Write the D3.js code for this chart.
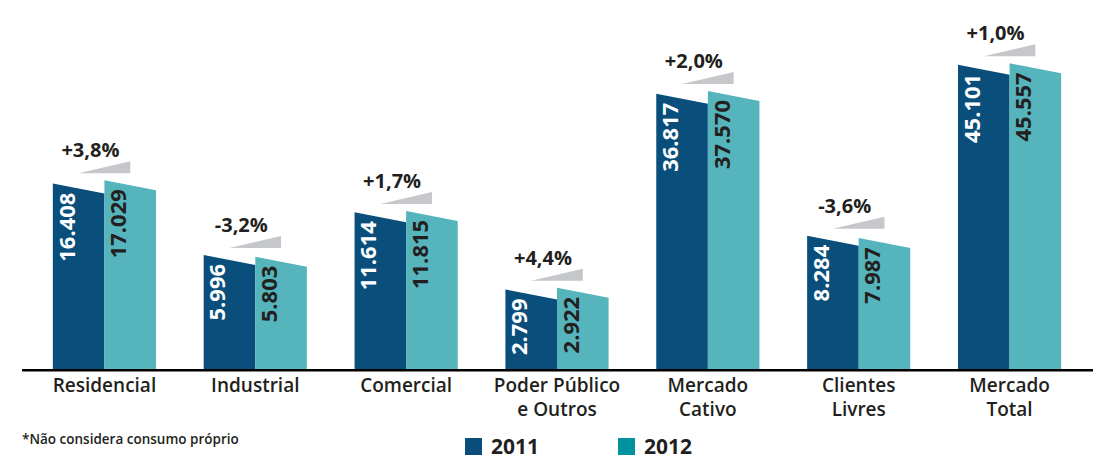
<!DOCTYPE html>
<html>
<head>
<meta charset="utf-8">
<script src="https://cdn.jsdelivr.net/npm/d3@7"></script>
<style>
  body { margin: 0; background: #fff; }
  svg { display: block; font-family: 'Open Sans', sans-serif; }
</style>
</head>
<body>
<div id="chart"></div>
<script>
const categories = ['Residencial', 'Industrial', 'Comercial', 'Poder Público\ne Outros', 'Mercado\nCativo', 'Clientes\nLivres', 'Mercado\nTotal'];
const years = ['2011', '2012'];
const values2011 = [16408, 5996, 11614, 2799, 36817, 8284, 45101];
const values2012 = [17029, 5803, 11815, 2922, 37570, 7987, 45557];
const changeLabels = ['+3,8%', '-3,2%', '+1,7%', '+4,4%', '+2,0%', '-3,6%', '+1,0%'];
const footnote = '*Não considera consumo próprio';

const width = 1107;
const height = 462;
const baseY = 369;
const slant = 10;

const barColors = { '2011': '#0a4f7b', '2012': '#55b4bc' };
const legendColors = { '2011': '#0a4d7c', '2012': '#00939f' };
const textDark = '#231f20';

const fmt = v => d3.format(',')(v).replace(/,/g, '.');

const data = categories.map((c, i) => ({
  label: c,
  values: [
    { year: '2011', value: values2011[i] },
    { year: '2012', value: values2012[i] }
  ],
  change: changeLabels[i]
}));

const svg = d3.select('#chart')
  .append('svg')
  .attr('width', width)
  .attr('height', height);

const x0 = d3.scaleBand()
  .domain(categories)
  .range([29, 1085])
  .paddingInner(0.316)
  .paddingOuter(0.158);

const x1 = d3.scaleBand()
  .domain(years)
  .range([0, x0.bandwidth()]);

// bar heights in the original are not linear, a sqrt scale comes closest
const y = d3.scaleSqrt()
  .domain([0, 50000])
  .range([baseY, 54]);

const groups = svg.selectAll('.group')
  .data(data)
  .enter()
  .append('g')
  .attr('class', 'group')
  .attr('transform', d => 'translate(' + x0(d.label) + ',0)');

// bars with slanted top
groups.selectAll('.bar')
  .data(d => d.values)
  .enter()
  .append('path')
  .attr('class', 'bar')
  .attr('d', d => {
    const l = x1(d.year);
    const r = l + x1.bandwidth();
    const t = y(d.value);
    return 'M' + l + ',' + baseY + 'L' + l + ',' + (t - slant / 2) +
      'L' + r + ',' + (t + slant / 2) + 'L' + r + ',' + baseY + 'Z';
  })
  .style('fill', d => barColors[d.year]);

// value labels, rotated
groups.selectAll('.val')
  .data(d => d.values)
  .enter()
  .append('text')
  .attr('class', 'val')
  .attr('transform', d => 'translate(' + (x1(d.year) + x1.bandwidth() / 2 - 12) + ',' + (y(d.value) + 4) + ') rotate(-90)')
  .attr('dy', '0.36em')
  .attr('text-anchor', 'end')
  .style('font-size', '22px')
  .style('font-weight', 700)
  .style('fill', d => d.year === '2011' ? '#fff' : textDark)
  .text(d => fmt(d.value));

// change wedge + label
groups.each(function (d) {
  const g = d3.select(this);
  const cx = x0.bandwidth() / 2;
  const top = d3.min(d.values, v => y(v.value)) - slant / 2;
  const b = top - 7;
  const w = x1.bandwidth();
  g.append('path')
    .attr('d', 'M' + (cx - w / 2) + ',' + b + 'L' + (cx + w / 2) + ',' + b + 'L' + (cx + w / 2) + ',' + (b - 12) + 'Z')
    .style('fill', '#c5c7ca');
  g.append('text')
    .attr('x', cx - 14)
    .attr('y', b - 16)
    .attr('text-anchor', 'middle')
    .style('font-size', '20px')
    .style('font-weight', 700)
    .style('fill', textDark)
    .text(d.change);
});

// baseline
svg.append('line')
  .attr('x1', 22)
  .attr('x2', 1093)
  .attr('y1', baseY + 1.3)
  .attr('y2', baseY + 1.3)
  .style('stroke', '#000')
  .style('stroke-width', 2.6);

// category labels
const xAxis = svg.append('g')
  .attr('transform', 'translate(0,' + (baseY + 2) + ')')
  .call(d3.axisBottom(x0).tickSize(0).tickPadding(0));
xAxis.select('.domain').remove();
xAxis.selectAll('.tick text').each(function (d) {
  const t = d3.select(this);
  t.text(null)
    .attr('y', 0)
    .attr('dy', null)
    .style('font-family', "'Open Sans', sans-serif")
    .style('font-size', '19px')
    .style('font-weight', 600)
    .style('fill', textDark);
  d.split('\n').forEach((line, i) => {
    t.append('tspan')
      .attr('x', 0)
      .attr('y', 21 + i * 24)
      .text(line);
  });
});

// footnote
svg.append('text')
  .attr('x', 22)
  .attr('y', 444)
  .style('font-size', '13.5px')
  .style('font-weight', 600)
  .style('fill', textDark)
  .text(footnote);

// legend
const legendX = [465, 618];
const legend = svg.selectAll('.legend')
  .data(years)
  .enter()
  .append('g')
  .attr('class', 'legend')
  .attr('transform', (d, i) => 'translate(' + legendX[i] + ',438)');
legend.append('rect')
  .attr('width', 17)
  .attr('height', 17)
  .style('fill', d => legendColors[d]);
legend.append('text')
  .attr('x', 26)
  .attr('y', 16)
  .style('font-size', '21px')
  .style('font-weight', 700)
  .style('fill', textDark)
  .text(d => d);
</script>
</body>
</html>
